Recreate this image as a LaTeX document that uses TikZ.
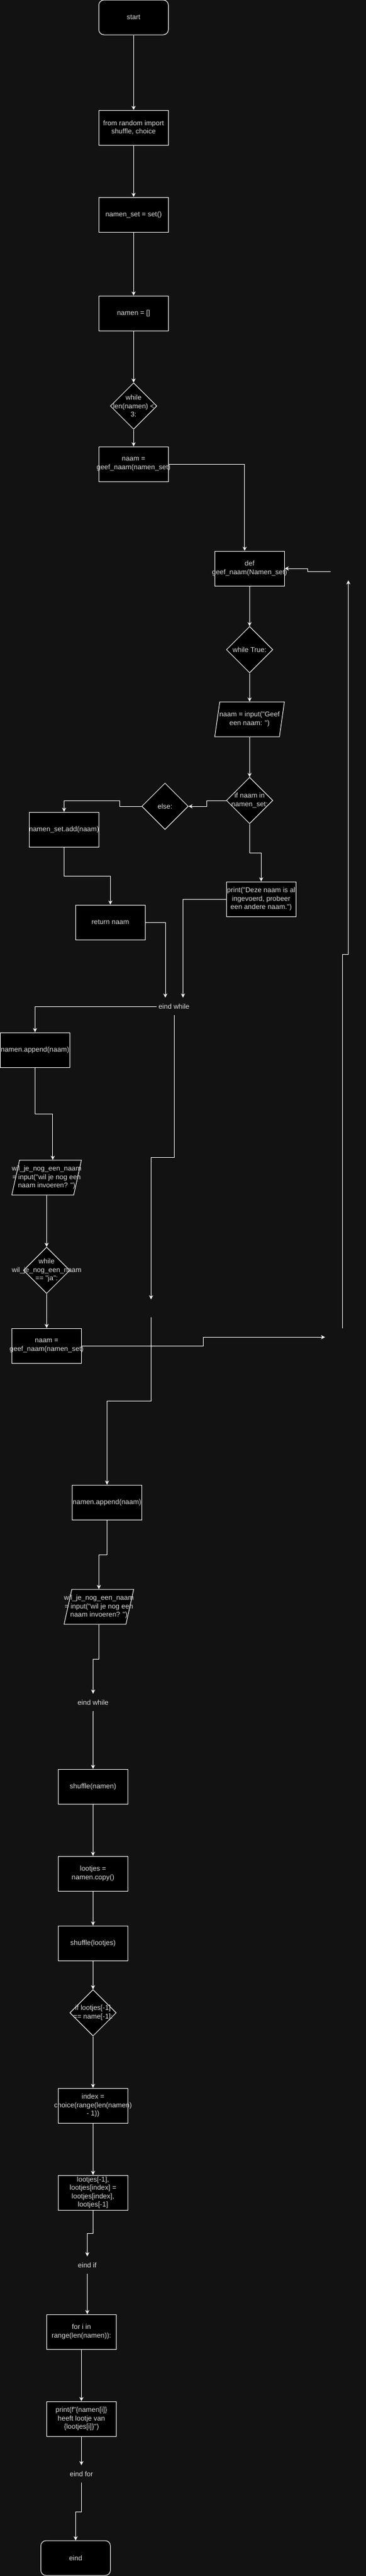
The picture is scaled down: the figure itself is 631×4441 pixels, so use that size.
\documentclass[tikz,border=0pt]{standalone}
\usepackage{fontspec}
\newfontfamily\knoopfont{Liberation Sans}
\usetikzlibrary{shapes.geometric,arrows.meta}
\definecolor{achtergrond}{RGB}{18,18,18}
\definecolor{tekst}{RGB}{221,221,221}
\begin{document}
\begin{tikzpicture}[x=1pt,y=-1pt,
		schrift/.style={text=tekst,font=\knoopfont\fontsize{12}{14.4}\selectfont,align=center},
		blok/.style={schrift,draw=white,fill=black,line width=1pt,minimum width=120pt,minimum height=60pt,inner xsep=-20pt,inner ysep=0pt},
		rond/.style={blok,rounded corners=9pt},
		ruit/.style={schrift,diamond,draw=white,fill=black,line width=1pt,minimum width=80pt,minimum height=80pt,inner sep=-40pt},
		invoer/.style={schrift,trapezium,trapezium left angle=71.57,trapezium right angle=108.43,trapezium stretches body=true,draw=white,fill=black,line width=1pt,minimum width=120pt,minimum height=60pt,inner xsep=-40pt,inner ysep=0pt},
		los/.style={schrift,minimum width=60pt,minimum height=30pt,inner sep=0pt},
		pijl/.style={draw=white,line width=1pt,-{Stealth[length=7pt,width=7pt]}}]
			\fill[achtergrond] (0,0) rectangle (631,4441);
			\useasboundingbox (0,0) rectangle (631,4441);
			% Hauptprogramm oben
			\node[rond] (start) at (230.3,30) {start};
			\node[blok] (imp) at (230.3,220) {from random import\\shuffle, choice};
			\node[blok] (nset) at (230.3,370) {namen\_set = set()};
			\node[blok] (namen) at (230.3,540) {namen = []};
			\node[ruit] (while1) at (230.3,700) {while\\len(namen) <\\3:};
			\node[blok] (naam1) at (230.3,800) {naam =\\geef\_naam(namen\_set)};
			% Funktion
			\node[blok] (def) at (430.3,980) {def\\geef\_naam(Namen\_set)};
			\node[ruit] (wtrue) at (430.3,1120) {while True:};
			\node[invoer] (vraag) at (430.3,1240) {naam = input("Geef\\een naam: ")};
			\node[ruit] (ifin) at (430.3,1380) {if naam in\\namen\_set:};
			\node[ruit] (els) at (284.5,1390) {else:};
			\node[blok] (add) at (110.5,1430) {namen\_set.add(naam)};
			\node[blok] (ret) at (190.3,1590) {return naam};
			\node[blok] (prnt) at (450.3,1550) {print("Deze naam is al\\ingevoerd, probeer\\een andere naam.")};
			\node[los] (ew1) at (300,1735) {eind while};
			% zweite Schleife
			\node[blok] (app1) at (60.4,1810) {namen.append(naam)};
			\node[invoer] (wil1) at (80.4,2030) {wil\_je\_nog\_een\_naam\\= input("wil je nog een\\naam invoeren? ")};
			\node[ruit] (while2) at (80.4,2190) {while\\wil\_je\_nog\_een\_naam\\== "ja":};
			\node[blok] (naam2) at (80.4,2320) {naam =\\geef\_naam(namen\_set)};
			\node[los] (k1) at (260.4,2255.3) {};
			\node[los] (k2) at (590.6,2305.3) {};
			\node[los] (k3) at (600.6,985.3) {};
			\node[blok] (app2) at (184.5,2590) {namen.append(naam)};
			\node[invoer] (wil2) at (170.5,2770) {wil\_je\_nog\_een\_naam\\= input("wil je nog een\\naam invoeren? ")};
			\node[los] (ew2) at (160.5,2935) {eind while};
			% Lose ziehen
			\node[blok] (shuf) at (160.4,3080) {shuffle(namen)};
			\node[blok] (kopie) at (160.4,3230) {lootjes =\\namen.copy()};
			\node[blok] (shuf2) at (160.4,3350) {shuffle(lootjes)};
			\node[ruit] (ifl) at (160.4,3470) {if lootjes[-1]\\== name[-1]:};
			\node[blok] (idx) at (160.4,3630) {index =\\choice(range(len(namen)\\- 1))};
			\node[blok] (swap) at (160.4,3780) {lootjes[-1],\\lootjes[index] =\\lootjes[index],\\lootjes[-1]};
			\node[los] (ew3) at (150.5,3905) {eind if};
			\node[blok] (for) at (140.4,4020) {for i in\\range(len(namen)):};
			\node[blok] (prf) at (140.4,4170) {print(f"\{namen[i]\}\\heeft lootje van\\\{lootjes[i]\}")};
			\node[los] (ef) at (140.4,4265) {eind for};
			\node[rond] (eind) at (130.4,4410) {eind};
			% Pfeile oben
			\draw[pijl] (start.south) to (imp.north);
			\draw[pijl] (imp.south) to (nset.north);
			\draw[pijl] (nset.south) to (namen.north);
			\draw[pijl] (namen.south) to (while1.north);
			\draw[pijl] (while1.south) to (naam1.north);
			\draw[pijl] (naam1.east) -| ([xshift=-8.5pt]def.north);
			% Pfeile Funktion
			\draw[pijl] (def.south) to (wtrue.north);
			\draw[pijl] (wtrue.south) to (wtrue.south |- vraag.north);
			\draw[pijl] (vraag.south -| ifin.north) to (ifin.north);
			\draw[pijl] (ifin.west) to ++(-33,0) |- (els.east);
			\draw[pijl] (els.west) to ++(-37.5,0) to ++(0,-10) -| (add.north);
			\draw[pijl] (add.south) to ++(0,50) -| (ret.north);
			\draw[pijl] (ret.east) -| ([xshift=-15pt]ew1.north);
			\draw[pijl] (ifin.south) to ++(0,50) -| (prnt.north);
			\draw[pijl] (prnt.west) -| ([xshift=15.5pt]ew1.north);
			% Pfeile zweite Schleife
			\draw[pijl] (ew1.west) -| (app1.north);
			\draw[pijl] (app1.south) to ++(0,80) -| ([xshift=10.5pt]wil1.north);
			\draw[pijl] (wil1.south -| while2.north) to (while2.north);
			\draw[pijl] (while2.south) to (naam2.north);
			\draw[pijl] (naam2.east) to ++(210,0) |- (k2.west);
			\draw[pijl] (k2.north) to ++(0,-645) -| (k3.south);
			\draw[pijl] (k3.west) to ++(-40,0) |- (def.east);
			\draw[pijl] (ew1.south) to ++(0,245) -| (k1.north);
			\draw[pijl] (k1.south) to ++(0,145) -| (app2.north);
			\draw[pijl] (app2.south) to ++(0,60) -| (wil2.north);
			\draw[pijl] (wil2.south) to ++(0,60) -| (ew2.north);
			% Pfeile unten
			\draw[pijl] (ew2.south) to (shuf.north);
			\draw[pijl] (shuf.south) to (kopie.north);
			\draw[pijl] (kopie.south) to (shuf2.north);
			\draw[pijl] (shuf2.south) to (ifl.north);
			\draw[pijl] (ifl.south) to (idx.north);
			\draw[pijl] (idx.south) to (swap.north);
			\draw[pijl] (swap.south) to ++(0,40) -| (ew3.north);
			\draw[pijl] (ew3.south) to (ew3.south |- for.north);
			\draw[pijl] (for.south) to (prf.north);
			\draw[pijl] (prf.south) to (ef.north);
			\draw[pijl] (ef.south) to ++(0,50) -| (eind.north);
\end{tikzpicture}
\end{document}
